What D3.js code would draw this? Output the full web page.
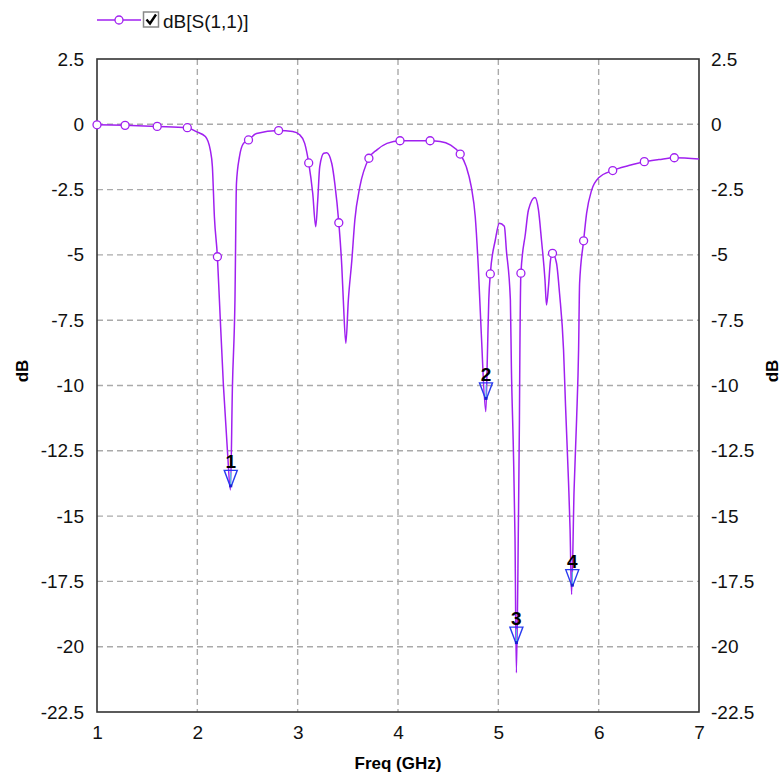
<!DOCTYPE html>
<html><head><meta charset="utf-8">
<script src="https://cdn.jsdelivr.net/npm/d3@7"></script>
<style>
body{margin:0;background:#fff;}
text{font-family:"Liberation Sans Narrow","Arial Narrow","Liberation Sans",Arial,sans-serif;}
</style></head>
<body><svg id="c" width="783" height="774"></svg>
<script>
// S11 trace (GHz, dB)
const freq = [1.00,1.28,1.60,1.90,1.99,2.08,2.13,2.15,2.17,2.20,2.22,2.26,2.30,2.33,2.35,2.375,2.39,2.42,2.46,2.51,2.59,2.81,2.95,3.02,3.07,3.11,3.15,3.18,3.20,3.22,3.26,3.29,3.34,3.37,3.41,3.44,3.455,3.48,3.505,3.54,3.57,3.62,3.71,3.79,3.89,4.02,4.32,4.42,4.52,4.62,4.68,4.73,4.77,4.80,4.83,4.875,4.89,4.905,4.92,4.97,5.01,5.06,5.08,5.12,5.13,5.15,5.166,5.18,5.20,5.21,5.215,5.225,5.27,5.30,5.365,5.40,5.43,5.465,5.48,5.50,5.52,5.54,5.58,5.61,5.65,5.67,5.70,5.715,5.73,5.755,5.78,5.80,5.81,5.85,5.88,5.93,6.00,6.14,6.30,6.455,6.60,6.754,7.00];
const s11 = [-0.02,-0.04,-0.08,-0.13,-0.28,-0.47,-1.0,-1.62,-3.54,-5.07,-6.73,-10.0,-12.5,-14.0,-10.0,-6.73,-2.26,-1.24,-0.73,-0.6,-0.35,-0.24,-0.28,-0.4,-0.73,-1.48,-2.64,-3.92,-2.9,-1.62,-1.11,-1.09,-1.5,-2.26,-3.77,-5.45,-6.73,-8.38,-6.73,-5.2,-3.66,-2.39,-1.3,-0.98,-0.73,-0.63,-0.63,-0.66,-0.79,-1.14,-1.62,-2.39,-3.54,-5.45,-8.0,-11.0,-9.0,-6.7,-5.73,-4.43,-3.79,-3.9,-4.81,-6.73,-9.28,-12.47,-15.79,-21.0,-15.3,-11.4,-8.6,-5.7,-4.18,-3.28,-2.8,-3.28,-4.43,-5.96,-6.92,-6.2,-5.2,-4.94,-5.32,-6.47,-8.64,-10.8,-13.74,-15.5,-18.0,-14.0,-11.3,-8.6,-6.09,-4.46,-3.4,-2.52,-2.05,-1.77,-1.58,-1.43,-1.35,-1.28,-1.33];
// symbol (circle) positions on the trace
const symFreq = [1.00,1.28,1.60,1.90,2.20,2.51,2.81,3.11,3.41,3.71,4.02,4.32,4.62,4.92,5.225,5.54,5.85,6.14,6.455,6.754];
const symVal  = [-0.02,-0.04,-0.08,-0.13,-5.07,-0.6,-0.24,-1.48,-3.77,-1.3,-0.63,-0.63,-1.14,-5.73,-5.7,-4.94,-4.46,-1.77,-1.43,-1.28];
// numbered markers
const mkId   = ["1","2","3","4"];
const mkFreq = [2.333,4.877,5.18,5.737];
const mkVal  = [-13.9,-10.55,-19.9,-17.7];
// ticks
const xTicks = [1,2,3,4,5,6,7];
const yTicks = [2.5,0,-2.5,-5,-7.5,-10,-12.5,-15,-17.5,-20,-22.5];
const traceName = "dB[S(1,1)]";
const xLabel = "Freq (GHz)";
const yLabel = "dB";

const col = "#a020f0";
const svg = d3.select("#c");
const L=97,R=699,T=59,B=712;
const x = d3.scaleLinear().domain([1,7]).range([L,R]);
const y = d3.scaleLinear().domain([-22.5,2.5]).range([B,T]);
const fmt = d => d===0 ? "0" : String(d);

// grid
const g = svg.append("g");
g.selectAll(".gx").data(xTicks.slice(1,-1)).join("line")
 .attr("x1",d=>x(d)).attr("x2",d=>x(d)).attr("y1",T).attr("y2",B)
 .attr("stroke","#aaa").attr("stroke-width",1.4).attr("stroke-dasharray","6,4");
g.selectAll(".gy").data(yTicks.slice(1,-1)).join("line")
 .attr("y1",d=>y(d)).attr("y2",d=>y(d)).attr("x1",L).attr("x2",R)
 .attr("stroke","#aaa").attr("stroke-width",1.4).attr("stroke-dasharray","6,4");

// axes
const ax = svg.append("g").attr("transform",`translate(0,${B})`)
 .call(d3.axisBottom(x).tickValues(xTicks).tickSize(0).tickPadding(14).tickFormat(fmt));
const ayl = svg.append("g").attr("transform",`translate(${L},0)`)
 .call(d3.axisLeft(y).tickValues(yTicks).tickSize(0).tickPadding(13).tickFormat(fmt));
const ayr = svg.append("g").attr("transform",`translate(${R},0)`)
 .call(d3.axisRight(y).tickValues(yTicks).tickSize(0).tickPadding(12).tickFormat(fmt));
[ax,ayl,ayr].forEach(a=>{a.select(".domain").remove();
  a.selectAll("text").attr("font-size",19).attr("fill","#111")
   .style("font-family",'"Liberation Sans Narrow","Arial Narrow","Liberation Sans",Arial,sans-serif');});

// frame
svg.append("rect").attr("x",L).attr("y",T).attr("width",R-L).attr("height",B-T)
 .attr("fill","none").attr("stroke","#333").attr("stroke-width",1.6);

// axis titles
svg.append("text").attr("x",(L+R)/2).attr("y",769).attr("text-anchor","middle")
 .attr("font-size",17).attr("font-weight","bold").text(xLabel);
svg.append("text").attr("transform","translate(28,371) rotate(-90)").attr("text-anchor","middle")
 .attr("font-size",17).attr("font-weight","bold").text(yLabel);
svg.append("text").attr("transform","translate(778,371) rotate(-90)").attr("text-anchor","middle")
 .attr("font-size",17).attr("font-weight","bold").text(yLabel);

// trace
const pts = freq.map((f,i)=>[f,s11[i]]);
svg.append("path").datum(pts).attr("fill","none").attr("stroke",col).attr("stroke-width",1.5)
 .attr("d",d3.line().x(d=>x(d[0])).y(d=>y(d[1])).curve(d3.curveMonotoneX));
svg.selectAll(".sym").data(symFreq.map((f,i)=>[f,symVal[i]])).join("circle")
 .attr("cx",d=>x(d[0])).attr("cy",d=>y(d[1])).attr("r",4)
 .attr("fill","#fff").attr("stroke",col).attr("stroke-width",1.3);

// numbered markers
const mk = svg.selectAll(".mk").data(mkId.map((id,i)=>({id,f:mkFreq[i],v:mkVal[i]}))).join("g")
 .attr("transform",d=>`translate(${x(d.f)},${y(d.v)})`);
mk.append("path").attr("d","M-6.5,-17 L6.5,-17 L0.5,-1 L-0.5,-1 Z").attr("fill","none")
 .attr("stroke","#2a3cf0").attr("stroke-width",1.4);
mk.append("line").attr("x1",0).attr("x2",0).attr("y1",-15).attr("y2",-2).attr("stroke","#40e0e0").attr("stroke-width",1);
mk.append("rect").attr("x",-1.5).attr("y",-3).attr("width",3).attr("height",3).attr("fill","#1a20d0");
mk.append("text").attr("y",-19).attr("text-anchor","middle").attr("font-size",19)
 .attr("font-weight","bold").attr("fill","#000").text(d=>d.id);

// legend
svg.append("line").attr("x1",97).attr("x2",141).attr("y1",20).attr("y2",20).attr("stroke",col).attr("stroke-width",1.5);
svg.append("circle").attr("cx",119).attr("cy",20).attr("r",4).attr("fill","#fff").attr("stroke",col).attr("stroke-width",1.3);
svg.append("rect").attr("x",143.5).attr("y",12).attr("width",15).attr("height",15).attr("fill","#fff").attr("stroke","#888").attr("stroke-width",1.5);
svg.append("path").attr("d","M146.5,19.5 L150,23.5 L156,14.5").attr("fill","none").attr("stroke","#000").attr("stroke-width",2.4);
svg.append("text").attr("x",163).attr("y",28).attr("font-size",19).attr("fill","#111").text(traceName);
</script></body></html>
